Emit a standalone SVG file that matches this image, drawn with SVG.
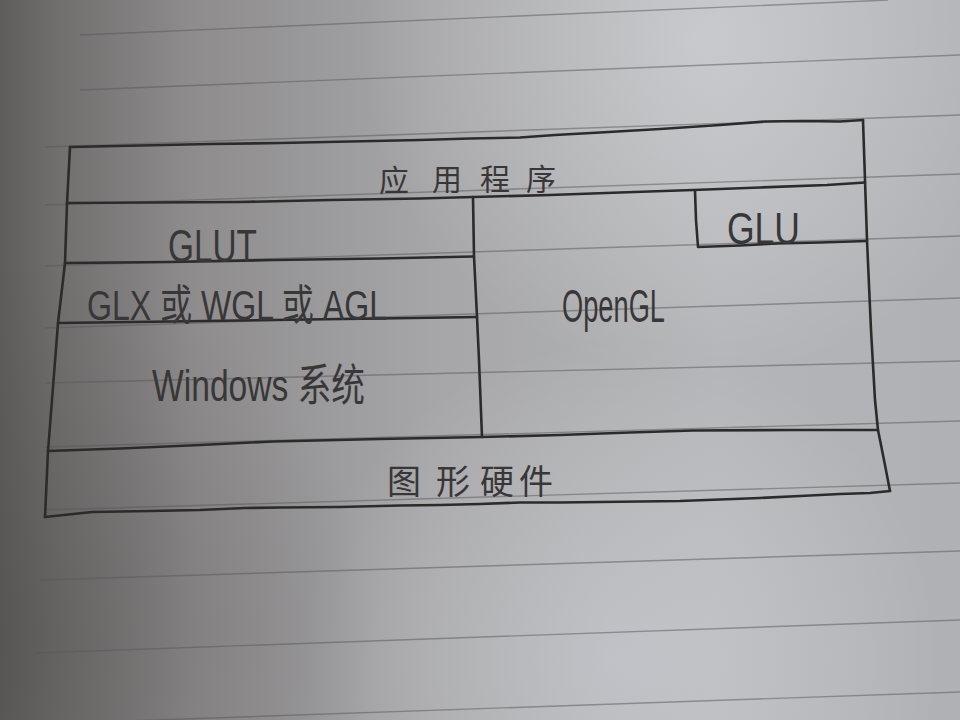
<svg xmlns="http://www.w3.org/2000/svg" width="960" height="720" viewBox="0 0 960 720">
  <defs>
    <linearGradient id="paper" x1="0" y1="0" x2="1" y2="0">
      <stop offset="0" stop-color="#5f5c5c"/>
      <stop offset="0.06" stop-color="#716e6e"/>
      <stop offset="0.2" stop-color="#8e8c8d"/>
      <stop offset="0.45" stop-color="#a6a6a8"/>
      <stop offset="0.75" stop-color="#b4b5b8"/>
      <stop offset="1" stop-color="#b0b1b4"/>
    </linearGradient>
    <radialGradient id="glowTop" cx="700" cy="40" r="340" gradientUnits="userSpaceOnUse">
      <stop offset="0" stop-color="#f4f6fa" stop-opacity="0.32"/>
      <stop offset="1" stop-color="#ffffff" stop-opacity="0"/>
    </radialGradient>
    <radialGradient id="glowBottom" cx="620" cy="660" r="320" gradientUnits="userSpaceOnUse">
      <stop offset="0" stop-color="#e6ecf5" stop-opacity="0.3"/>
      <stop offset="1" stop-color="#ffffff" stop-opacity="0"/>
    </radialGradient>
    <radialGradient id="shadeLeft" cx="0" cy="640" r="380" gradientUnits="userSpaceOnUse">
      <stop offset="0" stop-color="#4a4646" stop-opacity="0.35"/>
      <stop offset="1" stop-color="#4a4646" stop-opacity="0"/>
    </radialGradient>
  </defs>
  <style>
    .rule { fill: none; stroke: #55565c; stroke-opacity: 0.5; stroke-width: 1.4; }
    .pen { fill: none; stroke: #2c2b2b; stroke-width: 2.6; stroke-linecap: round; stroke-linejoin: round; }
    .lat { font-family: "Liberation Sans", "Noto Sans CJK SC", sans-serif; fill: #383737; }
    .cjk { font-family: "Noto Sans CJK SC", sans-serif; fill: #383737; text-anchor: middle; }
  </style>

  <g id="paper-bg">
    <rect x="0" y="0" width="960" height="720" fill="url(#paper)"/>
    <rect x="0" y="0" width="960" height="720" fill="url(#glowTop)"/>
    <rect x="0" y="0" width="960" height="720" fill="url(#glowBottom)"/>
    <rect x="0" y="0" width="960" height="720" fill="url(#shadeLeft)"/>
  </g>

  <g id="ruled-lines">
    <path class="rule" d="M80,35 L888,0"/>
    <path class="rule" d="M80,90 L960,55"/>
    <path class="rule" d="M45,147 L960,115"/>
    <path class="rule" d="M45,205 L960,174"/>
    <path class="rule" d="M45,266 L960,236"/>
    <path class="rule" d="M45,328 L960,298"/>
    <path class="rule" d="M45,383 L960,361"/>
    <path class="rule" d="M45,447 L960,421"/>
    <path class="rule" d="M45,510 L960,483"/>
    <path class="rule" d="M40,580 L960,551"/>
    <path class="rule" d="M35,653 L960,620"/>
    <path class="rule" d="M40,724 L960,692"/>
  </g>

  <g id="frame-lines">
    <path class="pen" d="M70,147 L140,145.5 L210,144 L280,143 L350,141.5 L420,140 L470,138.5 L520,137.5 L555,135 L600,132.5 L660,129 L720,125 L765,121.5 L800,121 L840,121.5 L863,120"/>
    <path class="pen" d="M863,120 L865,180 L867,240 L871,330 L875,400 L878,430 L884,460 L890,491"/>
    <path class="pen" d="M890,491 L870,493 L840,494 L800,496 L760,498 L720,499.5 L680,501 L640,501.5 L600,502 L560,502.5 L520,502.5 L480,504 L440,505 L400,505.5 L340,507 L280,507.5 L245,508 L200,510 L150,511 L92,512 L45,517"/>
    <path class="pen" d="M45,517 L48,451 L52,400 L58,323 L65,263 L67,203 L70,147"/>
    <path class="pen" d="M67,203 L150,202.5 L240,202 L330,200 L420,198.5 L473,197 L550,195 L620,192.5 L693,190 L760,187.5 L827,185 L865,182.5"/>
    <path class="pen" d="M473,197 L474,256 L477,317 L479,360 L482,437"/>
    <path class="pen" d="M65,263 L170,262 L273,260 L380,258.5 L473,256.5"/>
    <path class="pen" d="M58,323 L170,321.5 L273,320 L380,318.5 L477,317"/>
    <path class="pen" d="M48,451 L120,448.5 L200,445 L273,441.5 L380,439 L482,437 L560,435 L630,432.5 L693,430.5 L793,430 L878,430"/>
    <path class="pen" d="M695,191 L696,220 L698,247 L740,245.5 L777,243.5 L820,242.5 L867,241"/>
  </g>

  <g id="node-app">
    <text class="cjk" font-size="30" x="394 447 495 541" y="191 190 190 190">应用程序</text>
  </g>
  <g id="node-glut">
    <text class="lat" font-size="46" x="168" y="262" textLength="89" lengthAdjust="spacingAndGlyphs">GLUT</text>
  </g>
  <g id="node-glx">
    <text class="lat" font-size="42" x="87" y="320" textLength="300" lengthAdjust="spacingAndGlyphs">GLX 或 WGL 或 AGL</text>
  </g>
  <g id="node-windows">
    <text class="lat" font-size="44" x="152" y="401" textLength="213" lengthAdjust="spacingAndGlyphs">Windows 系统</text>
  </g>
  <g id="node-opengl">
    <text class="lat" font-size="46" x="562" y="322" textLength="103" lengthAdjust="spacingAndGlyphs">OpenGL</text>
  </g>
  <g id="node-glu">
    <text class="lat" font-size="44" x="727" y="244" textLength="73" lengthAdjust="spacingAndGlyphs">GLU</text>
  </g>
  <g id="node-hardware">
    <text class="cjk" font-size="34" x="404 453 497 536" y="494">图形硬件</text>
  </g>
</svg>
